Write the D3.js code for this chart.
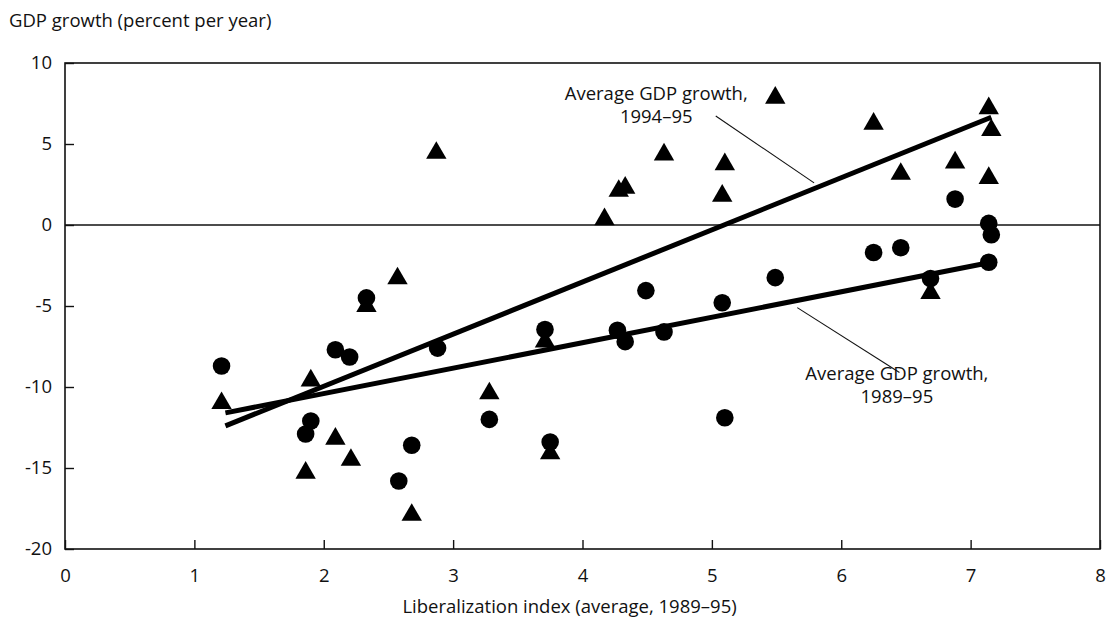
<!DOCTYPE html>
<html>
<head>
<meta charset="utf-8">
<script src="https://cdn.jsdelivr.net/npm/d3@7"></script>
<style>
  html, body { margin: 0; padding: 0; background: #fff; }
  text { font-family: "Open Sans", "Liberation Sans", Arial, sans-serif; fill: #111; }
</style>
</head>
<body>
<script>
// Liberalization index (x) and GDP growth (y), one entry per country
const libIndex8995 = [1.21, 1.86, 1.90, 2.09, 2.20, 2.33, 2.58, 2.68, 2.88, 3.28, 3.71, 3.75, 4.27,
                      4.33, 4.49, 4.63, 5.08, 5.10, 5.49, 6.25, 6.46, 6.69, 6.88, 7.14, 7.16, 7.14];
const growth8995   = [-8.7, -12.9, -12.1, -7.7, -8.15, -4.5, -15.8, -13.6, -7.6, -12.0, -6.45, -13.4, -6.5,
                      -7.2, -4.05, -6.6, -4.8, -11.9, -3.25, -1.7, -1.4, -3.3, 1.6, 0.1, -0.6, -2.3];

const libIndex9495 = [1.21, 1.90, 1.86, 2.09, 2.21, 2.33, 2.57, 2.68, 2.87, 3.28, 3.71, 3.75, 4.17,
                      4.28, 4.33, 4.63, 5.10, 5.08, 5.49, 6.25, 6.46, 6.69, 6.88, 7.14, 7.16, 7.14];
const growth9495   = [-11.0, -9.6, -15.3, -13.2, -14.5, -5.0, -3.3, -17.9, 4.45, -10.4, -7.2, -14.1, 0.35,
                      2.1, 2.3, 4.35, 3.75, 1.8, 7.85, 6.25, 3.15, -4.2, 3.85, 7.2, 5.85, 2.9];

// Fitted trend lines (endpoints)
const trend8995 = [[1.24, -11.6], [7.16, -2.3]];
const trend9495 = [[1.24, -12.4], [7.16, 6.65]];

const xTicks = [0, 1, 2, 3, 4, 5, 6, 7, 8];
const yTicks = [10, 5, 0, -5, -10, -15, -20];

const yTitle = "GDP growth (percent per year)";
const xTitle = "Liberalization index (average, 1989–95)";
const label9495 = ["Average GDP growth,", "1994–95"];
const label8995 = ["Average GDP growth,", "1989–95"];

const W = 1106, H = 636;
const margin = { top: 63, right: 6, bottom: 87, left: 65 };
const FONT = 18.5;
const FAMILY = '"Open Sans", "Liberation Sans", Arial, sans-serif';

const svg = d3.select("body").append("svg").attr("width", W).attr("height", H);

const x = d3.scaleLinear().domain([0, 8]).range([margin.left, W - margin.right]);
const y = d3.scaleLinear().domain([-20, 10]).range([H - margin.bottom, margin.top]);

// Frame around the plot
svg.append("rect")
  .attr("x", x(0)).attr("y", y(10))
  .attr("width", x(8) - x(0)).attr("height", y(-20) - y(10))
  .attr("fill", "none").attr("stroke", "#111").attr("stroke-width", 1.6);

// Zero line
svg.append("line")
  .attr("x1", x(0)).attr("x2", x(8)).attr("y1", y(0)).attr("y2", y(0))
  .attr("stroke", "#111").attr("stroke-width", 1.6);

// Axes with inward ticks
const xAxis = d3.axisBottom(x).tickValues(xTicks).tickFormat(d => String(d))
  .tickSizeInner(-9).tickSizeOuter(0).tickPadding(20);
const gx = svg.append("g").attr("transform", `translate(0,${y(-20)})`).call(xAxis);

const yAxis = d3.axisLeft(y).tickValues(yTicks).tickFormat(d => String(d))
  .tickSizeInner(-9).tickSizeOuter(0).tickPadding(13);
const gy = svg.append("g").attr("transform", `translate(${x(0)},0)`).call(yAxis);

[gx, gy].forEach(g => {
  g.select(".domain").remove();
  g.selectAll(".tick line").attr("stroke", "#111").attr("stroke-width", 1.4);
  g.selectAll(".tick text").attr("font-size", FONT).attr("fill", "#111")
    .attr("font-family", FAMILY);
});

// Axis titles
svg.append("text").attr("x", 9).attr("y", 27)
  .attr("font-size", FONT).text(yTitle);
svg.append("text").attr("x", x(3.9)).attr("y", 613)
  .attr("text-anchor", "middle").attr("font-size", FONT).text(xTitle);

// Trend lines
const line = d3.line().x(d => x(d[0])).y(d => y(d[1]));
[trend8995, trend9495].forEach(t => {
  svg.append("path").attr("d", line(t))
    .attr("fill", "none").attr("stroke", "#000").attr("stroke-width", 5);
});

// Markers: triangles for 1994-95, circles for 1989-95
const tri = d3.symbol().type(d3.symbolTriangle).size(180);
svg.append("g").selectAll("path")
  .data(d3.zip(libIndex9495, growth9495))
  .join("path")
  .attr("d", tri)
  .attr("transform", d => `translate(${x(d[0])},${y(d[1])})`)
  .attr("fill", "#000");

svg.append("g").selectAll("circle")
  .data(d3.zip(libIndex8995, growth8995))
  .join("circle")
  .attr("cx", d => x(d[0])).attr("cy", d => y(d[1]))
  .attr("r", 8.8).attr("fill", "#000");

// Annotations with leader lines
function annotate(lines, cx, cy, leader) {
  const t = svg.append("text").attr("text-anchor", "middle").attr("font-size", FONT);
  lines.forEach((s, i) => {
    t.append("tspan").attr("x", x(cx)).attr("y", y(cy) + i * 23).text(s);
  });
  svg.append("line")
    .attr("x1", x(leader[0][0])).attr("y1", y(leader[0][1]))
    .attr("x2", x(leader[1][0])).attr("y2", y(leader[1][1]))
    .attr("stroke", "#111").attr("stroke-width", 1.1);
}
annotate(label9495, 4.57, 7.7, [[5.03, 6.73], [5.79, 2.6]]);
annotate(label8995, 6.43, -9.55, [[5.66, -5.1], [6.45, -9.1]]);
</script>
</body>
</html>
